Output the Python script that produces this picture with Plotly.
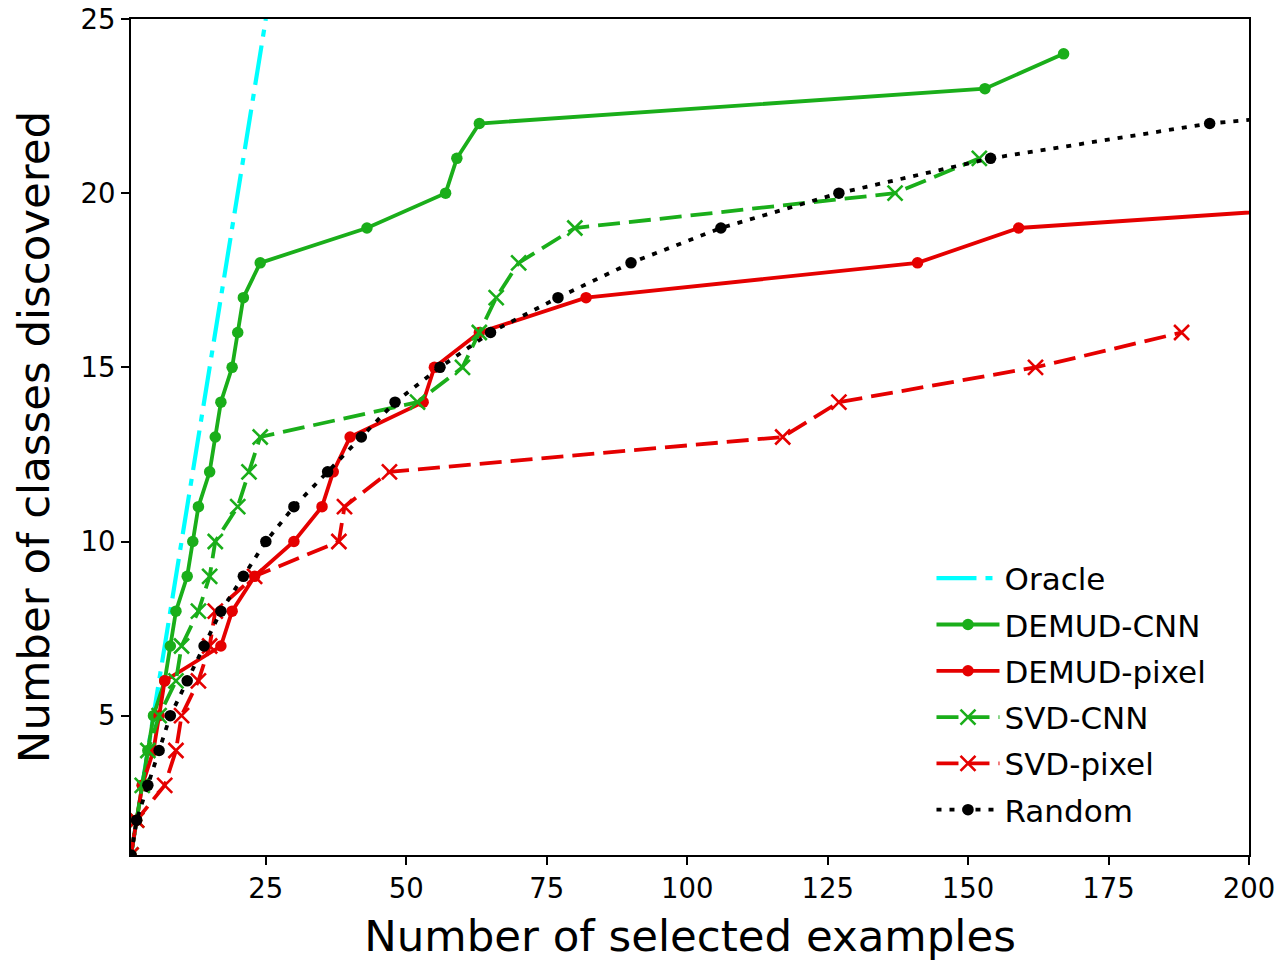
import plotly.graph_objects as go

# ---- data ----
oracle_x = list(range(1, 26))
oracle_y = list(range(1, 26))

demud_cnn_x = [1, 2, 3, 4, 5, 7, 8, 9, 11, 12, 13, 15, 16, 17, 19, 20, 21, 24, 43, 57, 59, 63, 153, 167]
demud_cnn_y = list(range(1, 25))

demud_pixel_x = [1, 2, 3, 5, 6, 7, 17, 19, 23, 30, 35, 37, 40, 53, 55, 63, 82, 141, 159, 251]
demud_pixel_y = list(range(1, 21))

svd_cnn_x = [1, 2, 3, 4, 6, 9, 10, 13, 15, 16, 20, 22, 24, 52, 60, 63, 66, 70, 80, 137, 152]
svd_cnn_y = list(range(1, 22))

svd_pixel_x = [1, 2, 7, 9, 10, 13, 15, 16, 23, 38, 39, 47, 117, 127, 162, 188]
svd_pixel_y = list(range(1, 17))

random_x = [1, 2, 4, 6, 8, 11, 14, 17, 21, 25, 30, 36, 42, 48, 56, 65, 77, 90, 106, 127, 154, 193, 260]
random_y = list(range(1, 24))

x_ticks = [25, 50, 75, 100, 125, 150, 175, 200]
y_ticks = [5, 10, 15, 20, 25]

GREEN = "#1aae1a"
RED = "#e50000"
CYAN = "#00ffff"
FONT = "DejaVu Sans"
LW = 3.8

fig = go.Figure()

fig.add_trace(go.Scatter(x=oracle_x, y=oracle_y, mode="lines", name="Oracle",
                         legendgroup="a",
                         line=dict(color=CYAN, width=LW + 0.4, dash="40px,9px,7px,9px")))
fig.add_trace(go.Scatter(x=demud_cnn_x, y=demud_cnn_y, mode="lines+markers", name="DEMUD-CNN",
                         legendgroup="b",
                         line=dict(color=GREEN, width=LW),
                         marker=dict(symbol="circle", size=11.5, color=GREEN)))
fig.add_trace(go.Scatter(x=demud_pixel_x, y=demud_pixel_y, mode="lines+markers", name="DEMUD-pixel",
                         legendgroup="c",
                         line=dict(color=RED, width=LW),
                         marker=dict(symbol="circle", size=11.5, color=RED)))
fig.add_trace(go.Scatter(x=svd_cnn_x, y=svd_cnn_y, mode="lines+markers", name="SVD-CNN",
                         legendgroup="d",
                         line=dict(color=GREEN, width=LW, dash="22px,9px"),
                         marker=dict(symbol="x-thin", size=15, color=GREEN,
                                     line=dict(color=GREEN, width=2.6))))
fig.add_trace(go.Scatter(x=svd_pixel_x, y=svd_pixel_y, mode="lines+markers", name="SVD-pixel",
                         legendgroup="e",
                         line=dict(color=RED, width=LW, dash="22px,9px"),
                         marker=dict(symbol="x-thin", size=15, color=RED,
                                     line=dict(color=RED, width=2.6))))
fig.add_trace(go.Scatter(x=random_x, y=random_y, mode="lines+markers", name="Random",
                         legendgroup="f",
                         line=dict(color="black", width=LW, dash="5px,8px"),
                         marker=dict(symbol="circle", size=11.5, color="black")))

fig.update_layout(
    width=1281, height=963,
    margin=dict(l=131, r=32, t=19, b=108, pad=0, autoexpand=False),
    paper_bgcolor="white", plot_bgcolor="white",
    font=dict(family=FONT, color="black"),
    showlegend=True,
    legend=dict(x=0.716, y=0.363, xanchor="left", yanchor="top",
                bgcolor="rgba(0,0,0,0)", borderwidth=0,
                font=dict(family=FONT, size=31, color="black"),
                itemwidth=63, tracegroupgap=3),
)

fig.update_xaxes(
    range=[1, 200], tickvals=x_ticks, ticktext=[str(v) for v in x_ticks],
    showgrid=False, zeroline=False, automargin=False,
    showline=True, linecolor="black", linewidth=1.8, mirror=True,
    ticks="outside", ticklen=8, tickwidth=1.8, tickcolor="black",
    tickfont=dict(family=FONT, size=27.5, color="black"),
    title=dict(text="Number of selected examples", font=dict(family=FONT, size=43.5, color="black"), standoff=18),
)
fig.update_yaxes(
    range=[1, 25], tickvals=y_ticks, ticktext=[str(v) for v in y_ticks],
    showgrid=False, zeroline=False, automargin=False,
    showline=True, linecolor="black", linewidth=1.8, mirror=True,
    ticks="outside", ticklen=8, tickwidth=1.8, tickcolor="black",
    tickfont=dict(family=FONT, size=27.5, color="black"),
    title=dict(text="Number of classes discovered", font=dict(family=FONT, size=43.5, color="black"), standoff=17),
)

fig.write_html("out.html", config={"displayModeBar": False},
               post_script="document.body.style.margin='0px';document.body.style.padding='0px';")
